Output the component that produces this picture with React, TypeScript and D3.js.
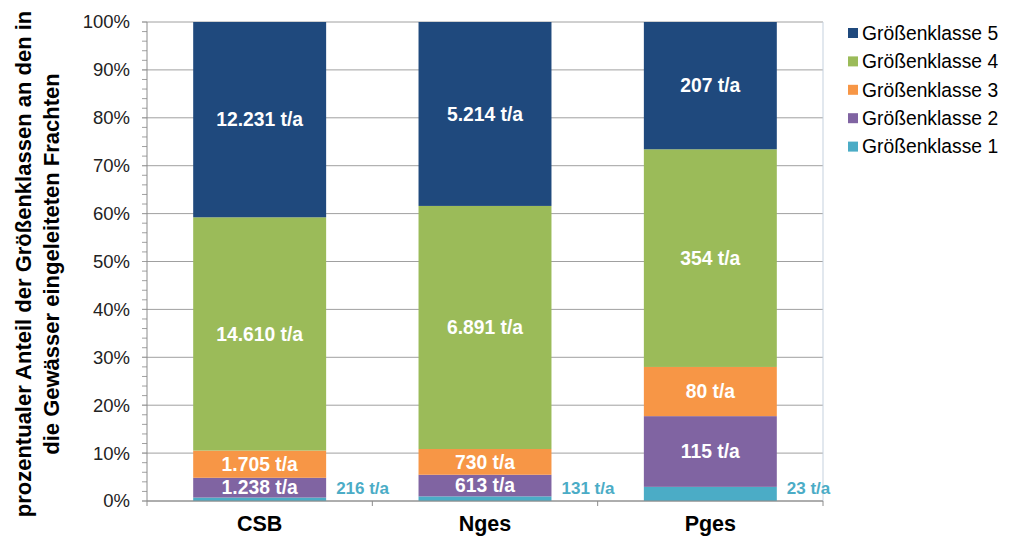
import React from "react";
import * as d3 from "d3";

const categories = ["CSB", "Nges", "Pges"];
const seriesNames = ["Größenklasse 1", "Größenklasse 2", "Größenklasse 3", "Größenklasse 4", "Größenklasse 5"];
const gk1 = [216, 131, 23];
const gk2 = [1238, 613, 115];
const gk3 = [1705, 730, 80];
const gk4 = [14610, 6891, 354];
const gk5 = [12231, 5214, 207];
const valueLabels = [
  ["216 t/a", "131 t/a", "23 t/a"],
  ["1.238 t/a", "613 t/a", "115 t/a"],
  ["1.705 t/a", "730 t/a", "80 t/a"],
  ["14.610 t/a", "6.891 t/a", "354 t/a"],
  ["12.231 t/a", "5.214 t/a", "207 t/a"],
];
const colors = ["#4BACC6", "#8064A2", "#F79646", "#9BBB59", "#1F497D"];
const yTicks = [0, 0.1, 0.2, 0.3, 0.4, 0.5, 0.6, 0.7, 0.8, 0.9, 1.0];

const series = [gk1, gk2, gk3, gk4, gk5];

export default function App() {
  const W = 1024, H = 548;
  const left = 147, right = 823, top = 22, bottom = 501;
  const x = d3.scaleBand<string>().domain(categories).range([left, right]).paddingInner(0.41).paddingOuter(0.205);
  const y = d3.scaleLinear().domain([0, 1]).range([bottom, top]);

  const rows = categories.map((c, i) => {
    const r: any = { cat: c };
    series.forEach((s, k) => (r["k" + k] = s[i]));
    return r;
  });
  const stack = d3.stack<any>().keys(series.map((_, k) => "k" + k)).offset(d3.stackOffsetExpand);
  const stacked = stack(rows);

  const font = "'Liberation Sans', Arial, sans-serif";
  const minorTicks = d3.range(0, 1.0001, 0.02);
  const step = x.step();

  return (
    <svg width={W} height={H} style={{ position: "absolute", left: 0, top: 0, fontFamily: font }}>
      <rect width={W} height={H} fill="#fff" />
      {/* gridlines */}
      {yTicks.map((t) => (
        <line key={"g" + t} x1={left - 5} x2={right} y1={y(t)} y2={y(t)} stroke="#A0A0A0" strokeWidth={1} />
      ))}
      {/* minor ticks */}
      {minorTicks.map((t, i) => (
        <line key={"m" + i} x1={left - 5} x2={left} y1={y(t)} y2={y(t)} stroke="#A0A0A0" strokeWidth={1} />
      ))}
      {/* right border */}
      <line x1={right} x2={right} y1={top} y2={bottom} stroke="#C5D1DE" strokeWidth={1} />
      {/* bars */}
      {stacked.map((layer, k) => (
        <g key={"s" + k}>
          {layer.map((d, i) => (
            <rect
              key={i}
              x={x(categories[i])}
              width={x.bandwidth()}
              y={y(d[1])}
              height={y(d[0]) - y(d[1])}
              fill={colors[k]}
            />
          ))}
        </g>
      ))}
      {/* axes */}
      <line x1={left} x2={left} y1={top} y2={bottom} stroke="#8C8C8C" strokeWidth={1} />
      <line x1={left} x2={right} y1={bottom} y2={bottom} stroke="#8C8C8C" strokeWidth={1} />
      {d3.range(0, categories.length + 1).map((i) => (
        <line key={"xt" + i} x1={left + i * step} x2={left + i * step} y1={bottom} y2={bottom + 5} stroke="#8C8C8C" />
      ))}
      {/* y tick labels */}
      {yTicks.map((t) => (
        <text key={"yl" + t} x={130} y={y(t)} dy="0.35em" textAnchor="end" fontSize={18.5} fill="#222">
          {d3.format(".0%")(t)}
        </text>
      ))}
      {/* x labels */}
      {categories.map((c) => (
        <text key={"xl" + c} x={x(c)! + x.bandwidth() / 2} y={531} textAnchor="middle" fontSize={21.5} fontWeight="bold" fill="#000">
          {c}
        </text>
      ))}
      {/* value labels */}
      {stacked.map((layer, k) =>
        layer.map((d, i) => {
          if (k === 0) {
            return (
              <text key={"v" + k + i} x={x(categories[i])! + x.bandwidth() + 10} y={488} dy="0.35em" fontSize={17} fontWeight="bold" fill={colors[0]}>
                {valueLabels[k][i]}
              </text>
            );
          }
          return (
            <text
              key={"v" + k + i}
              x={x(categories[i])! + x.bandwidth() / 2}
              y={(y(d[0]) + y(d[1])) / 2}
              dy="0.35em"
              textAnchor="middle"
              fontSize={19.3}
              fontWeight="bold"
              fill="#fff"
            >
              {valueLabels[k][i]}
            </text>
          );
        })
      )}
      {/* y title */}
      <g transform="translate(37,264) rotate(-90)">
        <text x={0} y={-6} textAnchor="middle" fontSize={22} fontWeight="bold" fill="#000">
          prozentualer Anteil der Größenklassen an den in
        </text>
        <text x={0} y={22} textAnchor="middle" fontSize={22} fontWeight="bold" fill="#000">
          die Gewässer eingeleiteten Frachten
        </text>
      </g>
      {/* legend */}
      {seriesNames
        .map((n, k) => ({ n, k }))
        .reverse()
        .map(({ n, k }, j) => (
          <g key={"lg" + k} transform={`translate(848,${33 + j * 28.4})`}>
            <rect x={0} y={-5} width={10} height={10} fill={colors[k]} />
            <text x={14} y={0} dy="0.35em" fontSize={19.3} fill="#000">
              {n}
            </text>
          </g>
        ))}
    </svg>
  );
}
